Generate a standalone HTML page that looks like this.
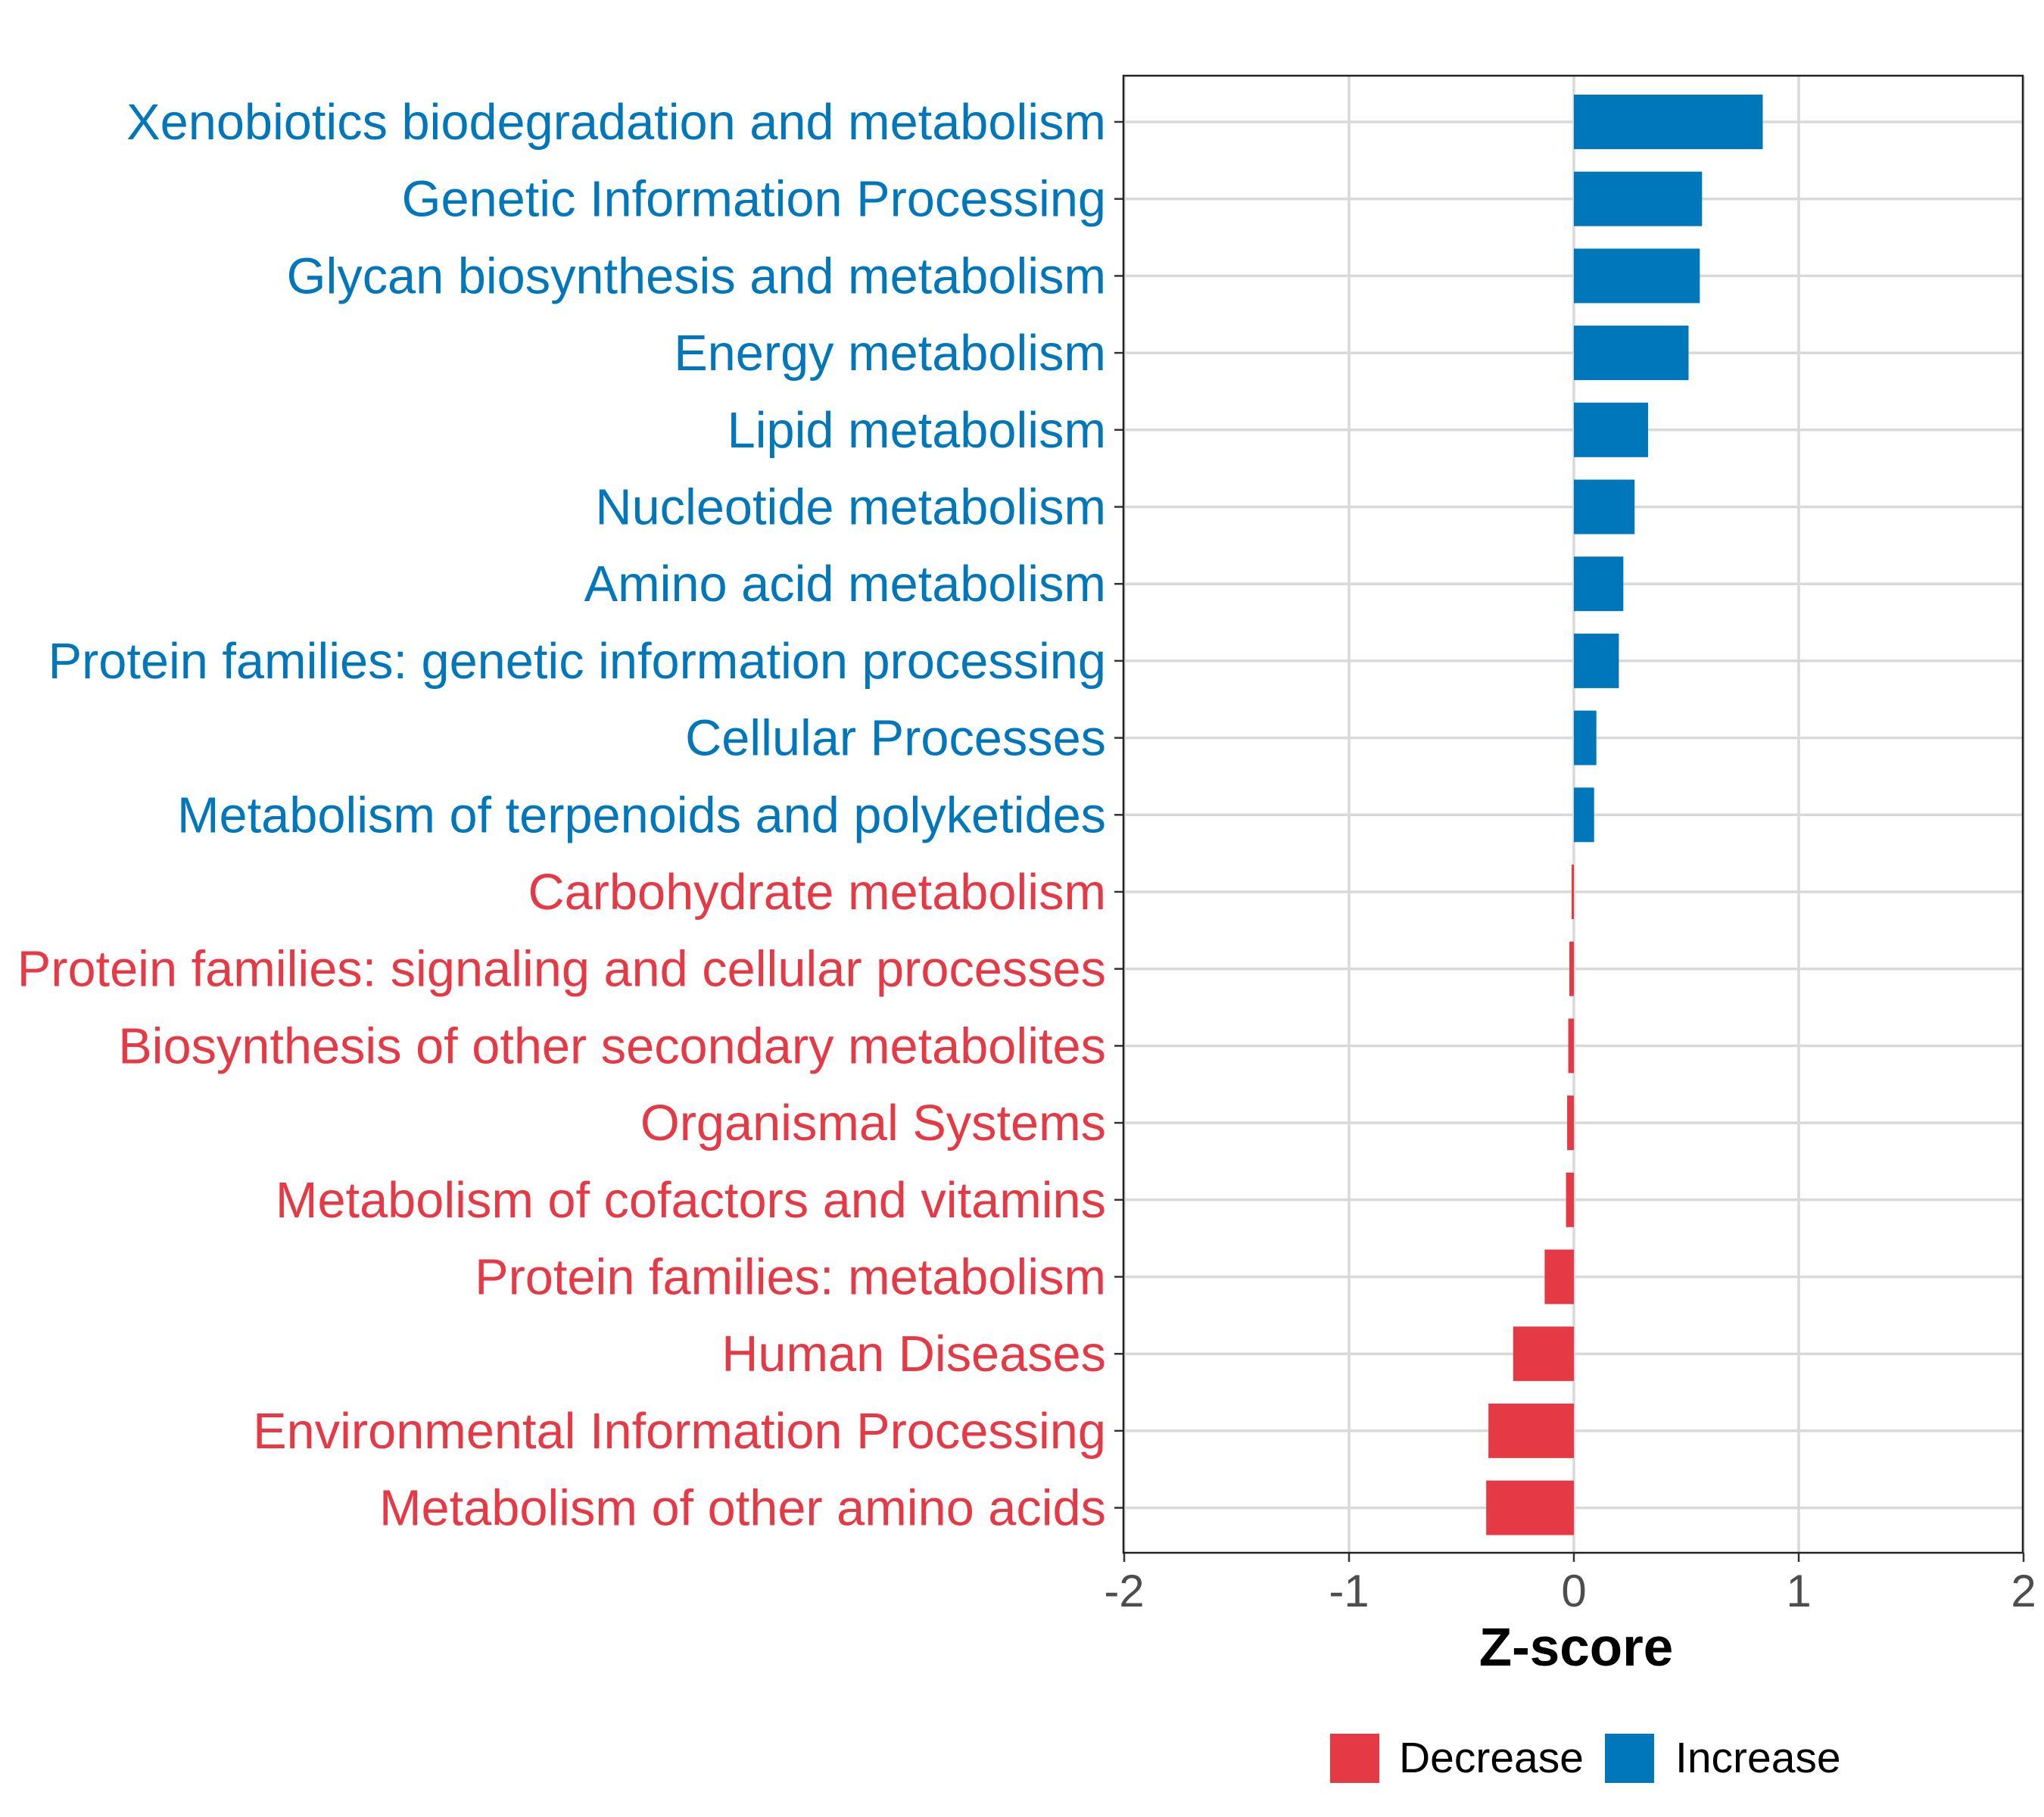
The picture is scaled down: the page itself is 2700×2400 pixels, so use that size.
<!DOCTYPE html>
<html><head><meta charset="utf-8"><style>body{margin:0;background:#fff}svg{display:block}</style></head>
<body>
<svg id="chart" xmlns="http://www.w3.org/2000/svg" width="2700" height="2400" font-family="Liberation Sans, Arial, sans-serif">
<rect width="2700" height="2400" fill="#fff"/>
<g id="grid"></g><g id="bars"></g><g id="labels"></g><g id="xaxis"></g>
<rect x="1484" y="100" width="1188" height="1951" fill="none" stroke="#222" stroke-width="2.5"/>
<text x="2082" y="2200" text-anchor="middle" font-size="71" font-weight="bold" fill="#000">Z-score</text>
<g>
<rect x="1757" y="2290" width="65" height="65" fill="#E63946"/>
<text x="1848" y="2341" font-size="57" fill="#000">Decrease</text>
<rect x="2120" y="2290" width="65" height="65" fill="#0077BB"/>
<text x="2213" y="2341" font-size="57" fill="#000">Increase</text>
</g>
</svg>
<script>
const categories=["Xenobiotics biodegradation and metabolism","Genetic Information Processing","Glycan biosynthesis and metabolism","Energy metabolism","Lipid metabolism","Nucleotide metabolism","Amino acid metabolism","Protein families: genetic information processing","Cellular Processes","Metabolism of terpenoids and polyketides","Carbohydrate metabolism","Protein families: signaling and cellular processes","Biosynthesis of other secondary metabolites","Organismal Systems","Metabolism of cofactors and vitamins","Protein families: metabolism","Human Diseases","Environmental Information Processing","Metabolism of other amino acids"];
const values=[0.84,0.57,0.56,0.51,0.33,0.27,0.22,0.20,0.10,0.09,-0.01,-0.02,-0.025,-0.03,-0.035,-0.13,-0.27,-0.38,-0.39];
const xTicks=[-2,-1,0,1,2];
const tickLabels=["-2","-1","0","1","2"];
const NS="http://www.w3.org/2000/svg";
const x=v=>2079+v*297;
const y=i=>161+i*101.7;
const colorOf=v=>v>=0?"#0077BB":"#E63946";
function mk(tag,attrs,parent){const e=document.createElementNS(NS,tag);for(const k in attrs)e.setAttribute(k,attrs[k]);document.getElementById(parent).appendChild(e);return e;}
xTicks.forEach((t,j)=>{
  const g=mk("line",{x1:x(t),x2:x(t),y1:100,y2:2051,stroke:"#d9d9d9","stroke-width":3.5},"grid");
  
  
  const tk=mk("line",{x1:x(t),x2:x(t),y1:2051,y2:2063,stroke:"#333","stroke-width":2.5},"xaxis");
  
  
  const tl=mk("text",{x:x(t),y:2122,"text-anchor":"middle","font-size":60,fill:"#4d4d4d"},"xaxis");
  tl.textContent=tickLabels[j];
  
  
});
categories.forEach((c,i)=>{
  const g=mk("line",{x1:1484,x2:2672,y1:y(i),y2:y(i),stroke:"#d9d9d9","stroke-width":3.5},"grid");
  
  
  const tk=mk("line",{x1:1472,x2:1484,y1:y(i),y2:y(i),stroke:"#333","stroke-width":2.5},"xaxis");
  
  
  const v=values[i];
  const b=mk("rect",{x:Math.min(x(0),x(v)),y:y(i)-36,width:Math.max(Math.abs(x(v)-x(0)),3),height:72,fill:colorOf(v)},"bars");
  
  
  const t=mk("text",{x:1461,y:y(i)+23,"text-anchor":"end","font-size":66.7,fill:colorOf(v)},"labels");
  t.textContent=c;
  
  
});
</script>
</body></html>
